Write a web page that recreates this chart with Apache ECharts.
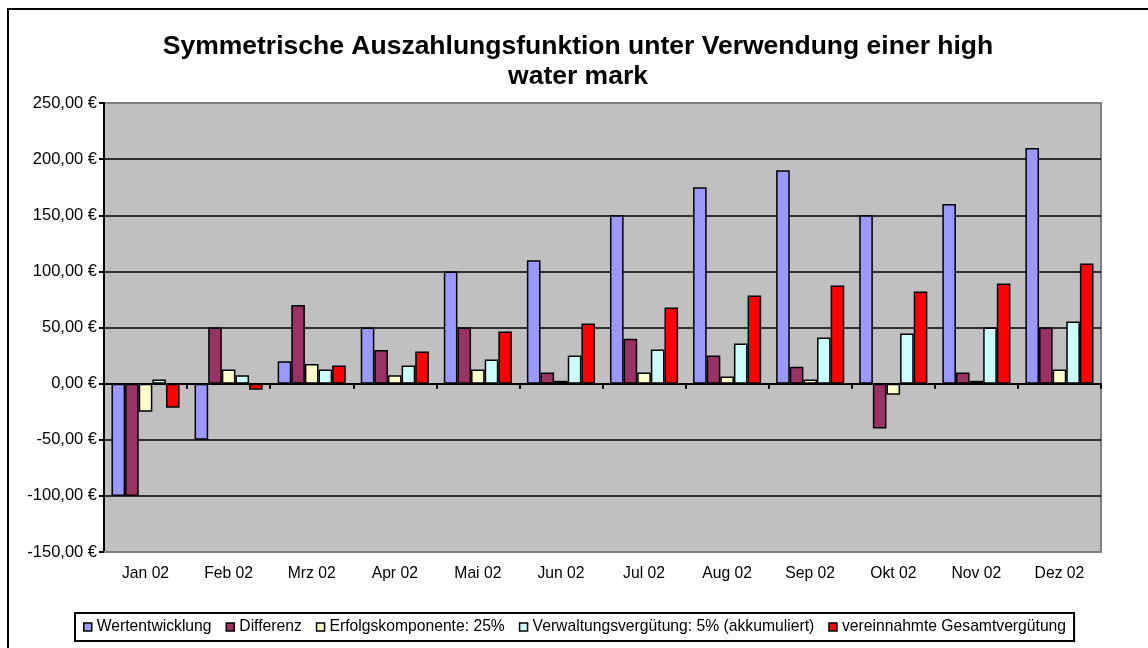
<!DOCTYPE html>
<html>
<head>
<meta charset="utf-8">
<script src="https://cdn.jsdelivr.net/npm/echarts@6/dist/echarts.min.js"></script>
<style>
  html, body { margin: 0; padding: 0; background: #fff; }
  #chart { position: absolute; left: 0; top: 0; width: 1148px; height: 648px; }
  #frame { position: absolute; left: 7px; top: 8px; width: 1160px; height: 660px;
           border-left: 2px solid #000; border-top: 2px solid #000; pointer-events: none; }
</style>
</head>
<body>
<div id="chart"></div>
<div id="frame"></div>
<script>
// Monate
var months = ['Jan 02', 'Feb 02', 'Mrz 02', 'Apr 02', 'Mai 02', 'Jun 02',
  'Jul 02', 'Aug 02', 'Sep 02', 'Okt 02', 'Nov 02', 'Dez 02'];

// Werte je Reihe
var wertentwicklung = [-100, -50, 20, 50, 100, 110, 150, 175, 190, 150, 160, 210];
var differenz = [-100, 50, 70, 30, 50, 10, 40, 25, 15, -40, 10, 50];
var erfolgskomponente = [-25, 12.5, 17.5, 7.5, 12.5, 2.5, 10, 6.25, 3.75, -10, 2.5, 12.5];
var verwaltung = [3.6, 7.4, 12.5, 16.1, 21.4, 25, 30.4, 35.7, 41.1, 44.6, 50, 55.4];
var gesamt = [-21.4, -5.4, 16.1, 28.6, 46.4, 53.6, 67.9, 78.6, 87.5, 82.1, 89.3, 107.1];

var seriesNames = ['Wertentwicklung', 'Differenz', 'Erfolgskomponente: 25%',
  'Verwaltungsvergütung: 5% (akkumuliert)', 'vereinnahmte Gesamtvergütung'];
var seriesColors = ['#9999FF', '#993366', '#FFFFCC', '#CCFFFF', '#FF0000'];
var seriesData = [wertentwicklung, differenz, erfolgskomponente, verwaltung, gesamt];

var FONT = 'Liberation Sans, Arial, sans-serif';

// Reihen bauen
var series = [];
for (var i = 0; i < seriesNames.length; i++) {
  series.push({
    name: seriesNames[i],
    type: 'bar',
    xAxisIndex: 0,
    yAxisIndex: 0,
    data: seriesData[i],
    barGap: '0%',
    barCategoryGap: '18%',
    itemStyle: {
      color: seriesColors[i],
      borderColor: '#000',
      borderWidth: 1.5
    }
  });
}

var myChart = echarts.init(document.getElementById('chart'), null, { renderer: 'canvas' });
var option = {
  animation: false,
  backgroundColor: 'transparent',
  title: {
    text: 'Symmetrische Auszahlungsfunktion unter Verwendung einer high\nwater mark',
    left: 573,
    textAlign: 'center',
    top: 27,
    textStyle: {
      fontFamily: FONT,
      fontSize: 26.5,
      fontWeight: 'bold',
      color: '#000',
      lineHeight: 30
    }
  },
  legend: {
    left: 75,
    top: 613,
    padding: [6, 8, 6, 8],
    borderColor: '#000',
    borderWidth: 2,
    itemWidth: 8,
    itemHeight: 8,
    itemGap: 14,
    icon: 'rect',
    itemStyle: { borderColor: '#000', borderWidth: 1.5 },
    textStyle: { fontFamily: FONT, fontSize: 15.7, color: '#000', padding: [0, 0, 0, 0] },
    data: seriesNames
  },
  grid: {
    left: 104,
    right: 47,
    top: 103,
    bottom: 96,
    show: true,
    backgroundColor: '#C0C0C0',
    borderColor: '#808080',
    borderWidth: 2
  },
  xAxis: [{
    type: 'category',
    data: months,
    position: 'bottom',
    axisLine: { onZero: false, lineStyle: { color: '#808080', width: 2 } },
    axisTick: { show: false },
    axisLabel: { margin: 14, fontFamily: FONT, fontSize: 15.7, color: '#000' },
    splitLine: { show: false }
  }, {
    type: 'category',
    data: months,
    position: 'bottom',
    axisLine: { onZero: true, lineStyle: { color: '#000', width: 2 } },
    axisTick: { show: true, length: 5, lineStyle: { color: '#000', width: 2 } },
    axisLabel: { show: false },
    splitLine: { show: false }
  }],
  yAxis: {
    type: 'value',
    min: -150,
    max: 250,
    interval: 50,
    axisLine: { show: true, lineStyle: { color: '#000', width: 2 } },
    axisTick: { show: true, length: 5, lineStyle: { color: '#000', width: 2 } },
    axisLabel: {
      margin: 7,
      fontFamily: FONT,
      fontSize: 16.5,
      color: '#000',
      formatter: function(v) {
        return v.toFixed(2).replace('.', ',') + ' €';
      }
    },
    splitLine: {
      show: true,
      lineStyle: {
        color: ['#404040', '#000', '#000', '#000', '#000', '#000', '#000', '#000', '#808080'],
        width: 1.5
      }
    }
  },
  series: series
};
myChart.setOption(option);
</script>
</body>
</html>
